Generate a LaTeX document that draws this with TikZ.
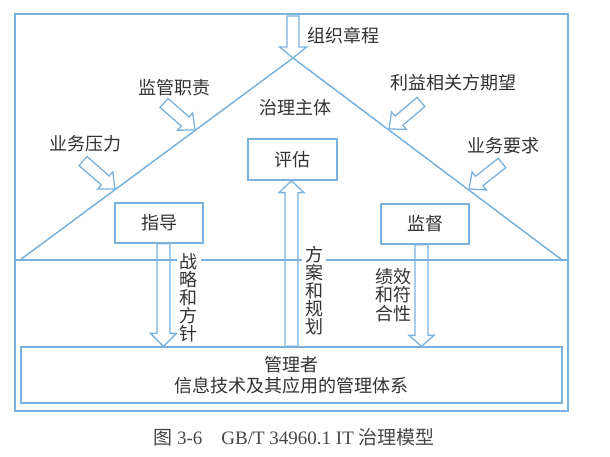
\documentclass[tikz,border=0pt]{standalone}
\usepackage{fontspec}
\setmainfont{Liberation Serif}
\newfontfamily\cjk{Noto Sans CJK SC}
\usetikzlibrary{calc}
\definecolor{ln}{RGB}{122,178,222}
\definecolor{tx}{RGB}{50,50,50}
\definecolor{cap}{RGB}{70,70,70}
% hollow block arrow: from, to, shaft half width, head half width, head length
\newcommand\harrow[5]{%
  \coordinate (hA) at (#1);
  \coordinate (hB) at (#2);
  \coordinate (hC) at ($(hB)!#5!(hA)$);
  \draw[hollow] ($(hA)!#3!90:(hB)$) -- ($(hC)!#3!90:(hB)$) -- ($(hC)!#4!90:(hB)$)
    -- (hB) -- ($(hC)!#4!-90:(hB)$) -- ($(hC)!#3!-90:(hB)$) -- ($(hA)!#3!-90:(hB)$) -- cycle;}
\tikzset{
  frame/.style={draw=ln, line width=1.5pt},
  hollow/.style={draw=ln, line width=1.3pt, line join=miter},
  box/.style={draw=ln, line width=1.3pt, fill=white, text=tx, inner sep=0pt,
    font=\cjk\fontsize{18}{18}\selectfont},
  lbl/.style={text=tx, inner sep=1pt, font=\cjk\fontsize{18}{18}\selectfont},
  vlbl/.style={text=tx, fill=white, inner sep=3pt, align=center,
    font=\cjk\fontsize{18}{18}\selectfont},
}
\begin{document}
\begin{tikzpicture}[x=1pt, y=-1pt]
\useasboundingbox (0,0) rectangle (610,457);
% frame, triangle, base line
\draw[frame] (15,14) rectangle (568,411);
\coordinate (apex) at (293,58);
\coordinate (bl) at (20,260);
\coordinate (br) at (562,260);
\coordinate (hl) at (15,260);
\coordinate (hr) at (568,260);
\draw[frame] (bl) -- (apex) -- (br);
\draw[frame] (hl) -- (hr);
% boxes
\node[box, minimum width=89pt, minimum height=41pt] (pg) at (292.5,159.5) {评估};
\node[box, minimum width=88pt, minimum height=40pt] (zd) at (159,223) {指导};
\node[box, minimum width=88pt, minimum height=40pt] (jd) at (425,224) {监督};
\node[box, minimum width=541pt, minimum height=56pt, align=center,
  font=\cjk\fontsize{18}{21}\selectfont] (mgmt) at (291.5,375)
  {管理者\\信息技术及其应用的管理体系};
% vertical hollow arrows
\harrow{[xshift=4.5pt]zd.south}{[xshift=4.5pt]zd.south |- mgmt.north}{6.5pt}{13pt}{13pt}
\harrow{[xshift=-3.5pt]jd.south}{[xshift=-3.5pt]jd.south |- mgmt.north}{6.5pt}{12.5pt}{11pt}
\harrow{[xshift=-1pt]pg.south |- mgmt.north}{[xshift=-1pt]pg.south}{6.5pt}{12.5pt}{12pt}
% top arrow
\coordinate (ttail) at (293,16);
\harrow{ttail}{apex}{6pt}{13.5pt}{11pt}
% slanted arrows onto triangle sides
\coordinate (a1t) at (164,103); \coordinate (a1h) at (195,130);
\coordinate (a2t) at (83,161);  \coordinate (a2h) at (115,189);
\coordinate (a3t) at (421,102); \coordinate (a3h) at (389,129);
\coordinate (a4t) at (502,163); \coordinate (a4h) at (469,189);
\harrow{a1t}{a1h}{6pt}{11.5pt}{13pt}
\harrow{a2t}{a2h}{6pt}{11.5pt}{13pt}
\harrow{a3t}{a3h}{6pt}{11.5pt}{13pt}
\harrow{a4t}{a4h}{6pt}{11.5pt}{13pt}
% labels
\node[lbl] (zzzc) at (343,36) {组织章程};
\node[lbl] (jgzz) at (174,88) {监管职责};
\node[lbl] (lyxg) at (453,83) {利益相关方期望};
\node[lbl] (ywyl) at (85,144) {业务压力};
\node[lbl] (ywyq) at (503,146) {业务要求};
\node[lbl] (zlzt) at (295,108) {治理主体};
\node[vlbl] (zlhf) at (188.5,297.5) {战\\略\\和\\方\\针};
\node[vlbl] (fahg) at (314,291) {方\\案\\和\\规\\划};
\node[vlbl, font=\cjk\fontsize{18}{18.3}\selectfont] (jxhf) at (393,295) {绩效\\和符\\合性};
% caption
\node[text=cap, inner sep=0pt, font=\fontsize{19}{19}\selectfont] (caption) at (294,437)
  {{\cjk 图} 3-6\quad GB/T 34960.1 IT {\cjk 治理模型}};
\end{tikzpicture}
\end{document}
